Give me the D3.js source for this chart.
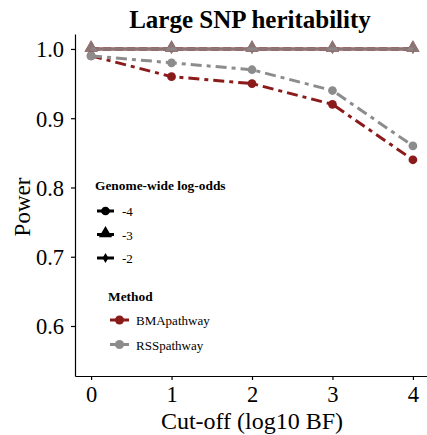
<!DOCTYPE html>
<html><head><meta charset="utf-8">
<script src="https://cdn.jsdelivr.net/npm/d3@7"></script>
<style>body{margin:0;background:#fff}svg{display:block}text{font-family:"Liberation Serif","DejaVu Serif",serif}</style>
</head><body>
<script>
const cutoffs = [0, 1, 2, 3, 4];
const yTicks = [0.6, 0.7, 0.8, 0.9, 1.0];
const methods = ["BMApathway", "RSSpathway"];
const logOdds = ["-4", "-3", "-2"];
const bma_m4 = [0.99, 0.96, 0.95, 0.92, 0.84];
const rss_m4 = [0.99, 0.98, 0.97, 0.94, 0.86];
const bma_m3 = [1.0, 1.0, 1.0, 1.0, 1.0];
const rss_m3 = [1.0, 1.0, 1.0, 1.0, 1.0];
const bma_m2 = [1.0, 1.0, 1.0, 1.0, 1.0];
const rss_m2 = [1.0, 1.0, 1.0, 1.0, 1.0];

const W = 427, H = 435;
const colors = {BMApathway: "#8b1a1a", RSSpathway: "#8c8c8c"};
const svg = d3.select("body").append("svg").attr("width", W).attr("height", H);

const x = d3.scaleLinear().domain([-0.2, 4.2]).range([75, 429]);
const y = d3.scaleLinear().domain([0.5278, 1.0216]).range([376, 34]);

// axes
const xa = svg.append("g").attr("transform", "translate(0,376)")
  .call(d3.axisBottom(x).tickValues(cutoffs).tickFormat(d3.format("d")).tickSize(4).tickSizeOuter(0));
const ya = svg.append("g").attr("transform", "translate(75,0)")
  .call(d3.axisLeft(y).tickValues(yTicks).tickFormat(d3.format(".1f")).tickSize(4).tickSizeOuter(0));
[xa, ya].forEach(a => {
  a.select(".domain").attr("stroke", "#000").attr("stroke-width", 1.2);
  a.selectAll(".tick line").attr("stroke", "#000").attr("stroke-width", 1.2);
  a.selectAll("text").attr("fill", "#000").style("font-size", "22.5px").style("font-family", "Liberation Serif");
});
xa.selectAll("text").attr("dy", "0").attr("y", 25.5);
ya.selectAll("text").attr("x", -11).attr("dy", "0.35em");

const series = [
  {m: "BMApathway", lo: "-2", v: bma_m2, dash: "8,4"},
  {m: "RSSpathway", lo: "-2", v: rss_m2, dash: "8,4"},
  {m: "BMApathway", lo: "-3", v: bma_m3, dash: null},
  {m: "RSSpathway", lo: "-3", v: rss_m3, dash: null, op: 0.8},
  {m: "BMApathway", lo: "-4", v: bma_m4, dash: "11,5,4,5"},
  {m: "RSSpathway", lo: "-4", v: rss_m4, dash: "11,5,4,5"}
];
const line = d3.line().x((d, i) => x(cutoffs[i])).y(d => y(d));
const sym = {"-4": d3.symbolCircle, "-3": d3.symbolTriangle, "-2": d3.symbolDiamond};
const symSize = {"-4": 60, "-3": 75, "-2": 30};

series.forEach(s => {
  svg.append("path").datum(s.v).attr("d", line).attr("fill", "none")
    .attr("stroke", colors[s.m]).attr("stroke-width", 3)
    .attr("stroke-opacity", s.op || 1)
    .attr("stroke-dasharray", s.dash);
  svg.selectAll(null).data(s.v).enter().append("path")
    .attr("d", d3.symbol().type(sym[s.lo]).size(symSize[s.lo]))
    .attr("transform", (d, i) => `translate(${x(cutoffs[i])},${y(d) + (s.lo === "-3" ? -1 : 0)})`)
    .attr("fill", colors[s.m]).attr("fill-opacity", s.op || 1);
});

// title and axis labels
svg.append("text").attr("x", 250).attr("y", 28).attr("text-anchor", "middle")
  .style("font-size", "25px").style("font-weight", "bold").text("Large SNP heritability");
svg.append("text").attr("x", 252).attr("y", 429).attr("text-anchor", "middle")
  .style("font-size", "24px").text("Cut-off (log10 BF)");
svg.append("text").attr("transform", "translate(30,207) rotate(-90)").attr("text-anchor", "middle")
  .style("font-size", "23px").text("Power");

// legend: log-odds
svg.append("text").attr("x", 95).attr("y", 190).style("font-size", "13.4px").style("font-weight", "bold")
  .text("Genome-wide log-odds");
logOdds.forEach((lo, i) => {
  const yy = 211 + i * 23.5;
  svg.append("line").attr("x1", 97).attr("x2", 114).attr("y1", yy).attr("y2", yy)
    .attr("stroke", "#000").attr("stroke-width", 3);
  svg.append("path").attr("d", d3.symbol().type(sym[lo]).size(symSize[lo]))
    .attr("transform", `translate(105.5,${yy + (lo === "-3" ? -1 : 0)})`).attr("fill", "#000");
  svg.append("text").attr("x", 122).attr("y", yy + 5).style("font-size", "13px").text(lo);
});
// legend: method
svg.append("text").attr("x", 108).attr("y", 301).style("font-size", "13.4px").style("font-weight", "bold")
  .text("Method");
methods.forEach((m, i) => {
  const yy = 320 + i * 24.5;
  svg.append("line").attr("x1", 110).attr("x2", 129).attr("y1", yy).attr("y2", yy)
    .attr("stroke", colors[m]).attr("stroke-width", 3);
  svg.append("circle").attr("cx", 119.5).attr("cy", yy).attr("r", 4.5).attr("fill", colors[m]);
  svg.append("text").attr("x", 136).attr("y", yy + 5).style("font-size", "13px").text(m);
});
</script>
</body></html>
